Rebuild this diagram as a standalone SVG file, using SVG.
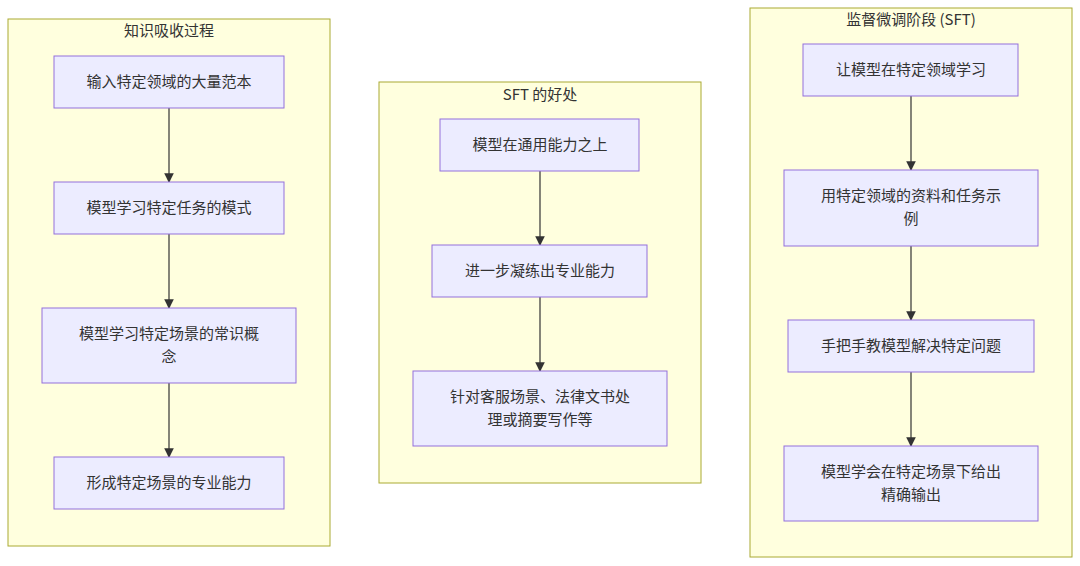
<svg xmlns="http://www.w3.org/2000/svg" width="1080" height="566" viewBox="0 0 1080 566">
<style>
.c{fill:#ffffde;stroke:#aaaa33;stroke-width:1}
.n{fill:#ececff;stroke:#9370db;stroke-width:1}
text{font-family:"Noto Sans CJK SC","Liberation Sans",sans-serif;font-size:15px;fill:#333;text-anchor:middle}
.e{stroke:#333;stroke-width:1.2;fill:none;marker-end:url(#a)}
</style>
<defs><marker id="a" viewBox="0 0 10 10" refX="9" refY="5" markerWidth="8" markerHeight="8" orient="auto"><path d="M0,0L10,5L0,10z" fill="#333"/></marker></defs>
<rect width="1080" height="566" fill="#fff"/>
<g id="cluster1"><rect class="c" x="8" y="19" width="322" height="527"/><text x="169" y="36">知识吸收过程</text></g>
<g id="cluster2"><rect class="c" x="379" y="82" width="322" height="401"/><text x="540" y="100">SFT 的好处</text></g>
<g id="cluster3"><rect class="c" x="750" y="8" width="322" height="549"/><text x="911" y="25">监督微调阶段 (SFT)</text></g>
<g id="connectors">
<line class="e" x1="169" y1="108" x2="169" y2="182"/>
<line class="e" x1="169" y1="234" x2="169" y2="308"/>
<line class="e" x1="169" y1="383" x2="169" y2="457"/>
<line class="e" x1="540" y1="171" x2="540" y2="245"/>
<line class="e" x1="540" y1="297" x2="540" y2="371"/>
<line class="e" x1="911" y1="96" x2="911" y2="170"/>
<line class="e" x1="911" y1="246" x2="911" y2="320"/>
<line class="e" x1="911" y1="372" x2="911" y2="446"/>
</g>
<g id="A1"><rect class="n" x="54" y="56" width="230" height="52"/><text x="169" y="87">输入特定领域的大量范本</text></g>
<g id="A2"><rect class="n" x="54" y="182" width="230" height="52"/><text x="169" y="213">模型学习特定任务的模式</text></g>
<g id="A3"><rect class="n" x="42" y="308" width="254" height="75"/><text x="169" y="339">模型学习特定场景的常识概</text><text x="169" y="362">念</text></g>
<g id="A4"><rect class="n" x="54" y="457" width="230" height="52"/><text x="169" y="488">形成特定场景的专业能力</text></g>
<g id="B1"><rect class="n" x="440" y="119" width="199" height="52"/><text x="540" y="150">模型在通用能力之上</text></g>
<g id="B2"><rect class="n" x="432" y="245" width="215" height="52"/><text x="540" y="276">进一步凝练出专业能力</text></g>
<g id="B3"><rect class="n" x="413" y="371" width="254" height="75"/><text x="540" y="402">针对客服场景、法律文书处</text><text x="540" y="425">理或摘要写作等</text></g>
<g id="C1"><rect class="n" x="803" y="44" width="215" height="52"/><text x="911" y="75">让模型在特定领域学习</text></g>
<g id="C2"><rect class="n" x="784" y="170" width="254" height="76"/><text x="911" y="201">用特定领域的资料和任务示</text><text x="911" y="224">例</text></g>
<g id="C3"><rect class="n" x="788" y="320" width="246" height="52"/><text x="911" y="351">手把手教模型解决特定问题</text></g>
<g id="C4"><rect class="n" x="784" y="446" width="254" height="75"/><text x="911" y="477">模型学会在特定场景下给出</text><text x="911" y="500">精确输出</text></g>
</svg>
